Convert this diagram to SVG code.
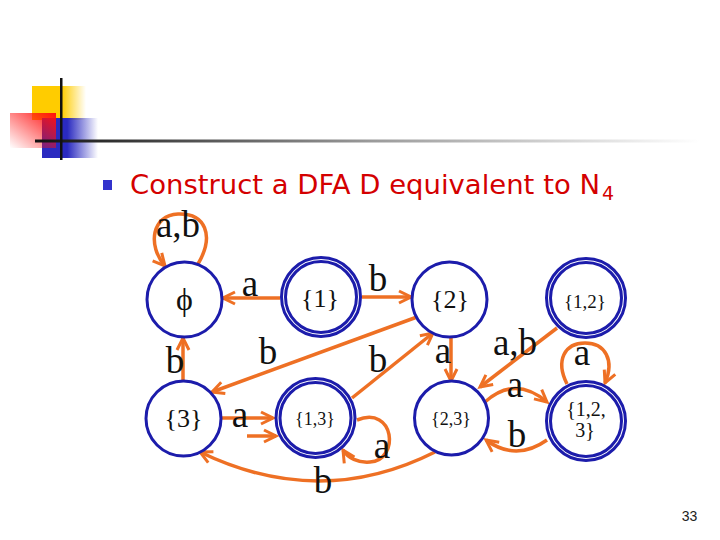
<svg xmlns="http://www.w3.org/2000/svg" width="720" height="540" viewBox="0 0 720 540">
<style>
.st{fill:#fff;stroke:#1c1cab;stroke-width:3}
.acc{fill:none;stroke:#1c1cab;stroke-width:3}
.nl{font-family:"Liberation Serif","DejaVu Serif",serif;fill:#111;text-anchor:middle}
.el{font-family:"Liberation Serif","DejaVu Serif",serif;font-size:37px;fill:#111;text-anchor:middle}
.e{fill:none;stroke:#ee7024;stroke-width:3.5;marker-end:url(#ah)}
</style>
<defs>
<marker id="ah" markerUnits="userSpaceOnUse" markerWidth="16" markerHeight="16" refX="13" refY="7" orient="auto" viewBox="0 0 16 14">
<path d="M1,1 L13,7 L1,13" fill="none" stroke="#ee7024" stroke-width="3" stroke-linejoin="miter"/>
</marker>
<linearGradient id="gy" x1="0" y1="0" x2="1" y2="0"><stop offset="0.55" stop-color="#ffcc00"/><stop offset="1" stop-color="#ffcc00" stop-opacity="0"/></linearGradient>
<linearGradient id="gb" x1="0" y1="0" x2="1" y2="0"><stop offset="0.45" stop-color="#2a2ac0"/><stop offset="1" stop-color="#2a2ac0" stop-opacity="0"/></linearGradient>
<linearGradient id="gr" x1="1" y1="0" x2="0" y2="1"><stop offset="0" stop-color="#ff1010"/><stop offset="1" stop-color="#ff1010" stop-opacity="0"/></linearGradient>
<linearGradient id="gl" x1="0" y1="0" x2="1" y2="0"><stop offset="0" stop-color="#111"/><stop offset="0.5" stop-color="#999"/><stop offset="1" stop-color="#fff"/></linearGradient>
</defs>
<rect width="720" height="540" fill="#fff"/>
<g id="logo">
<rect x="32" y="86" width="54" height="34" fill="url(#gy)"/>
<rect x="42" y="118" width="56" height="40" fill="url(#gb)"/>
<rect x="10" y="113" width="46" height="35" fill="url(#gr)"/>
<rect x="35" y="139.5" width="665" height="3" fill="url(#gl)"/>
<rect x="60" y="78" width="2.5" height="82" fill="#111"/>
</g>
<g id="title">
<rect x="103" y="180" width="9" height="10" fill="#3333cc"/>
<text x="130" y="194" font-family="DejaVu Sans,Verdana,sans-serif" font-size="27" fill="#d40000" textLength="470" lengthAdjust="spacingAndGlyphs">Construct a DFA D equivalent to N</text>
<text x="602" y="200" font-family="DejaVu Sans,Verdana,sans-serif" font-size="19" fill="#d40000">4</text>
</g>
<g id="connectors">
<path class="e" d="M198,264 C215,235 205,213 178,214 C152,215 147,245 165,266"/>
<text class="el" x="178" y="237">a,b</text>
<path class="e" d="M280,298 L223,298"/>
<text class="el" x="250" y="296">a</text>
<path class="e" d="M362,297 L411,297"/>
<text class="el" x="378" y="291">b</text>
<path class="e" d="M183,381 L183,338"/>
<text class="el" x="175" y="373">b</text>
<path class="e" d="M417,317 L212,392"/>
<text class="el" x="268" y="364">b</text>
<path class="e" d="M352,398 L433,333"/>
<text class="el" x="378" y="372">b</text>
<path class="e" d="M451,337 L451,381"/>
<text class="el" x="443" y="363">a</text>
<path class="e" d="M557,328 L480,387"/>
<text class="el" x="515" y="355">a,b</text>
<path class="e" d="M485,402 Q515,375 547,402"/>
<text class="el" x="515" y="397">a</text>
<path class="e" d="M547,440 Q516,462 486,440"/>
<text class="el" x="517" y="447">b</text>
<path class="e" d="M567,384 C555,360 565,343 585,343 C605,343 615,360 605,383"/>
<text class="el" x="582" y="365">a</text>
<path class="e" d="M222,418 L273,418"/>
<text class="el" x="240" y="427">a</text>
<path class="e" d="M247,436 L276,436"/>
<path class="e" d="M357,420 C395,405 400,460 370,462 C358,463 348,458 343,450"/>
<text class="el" x="382" y="458">a</text>
<path class="e" d="M435,452 Q320,510 200,452"/>
<text class="el" x="323" y="493">b</text>
</g>
<g id="n_empty"><circle class="st" cx="184.5" cy="299.5" r="37.5"/><text class="nl" x="184.5" y="310" font-size="32">ϕ</text></g>
<g id="n_1"><circle class="st" cx="321" cy="297" r="39.5"/><circle class="acc" cx="321" cy="297" r="35.5"/><text class="nl" x="320" y="307" font-size="26">{1}</text></g>
<g id="n_2"><circle class="st" cx="449.5" cy="299.5" r="37.5"/><text class="nl" x="450" y="308" font-size="26">{2}</text></g>
<g id="n_12"><circle class="st" cx="586" cy="298" r="39.5"/><circle class="acc" cx="586" cy="298" r="35.5"/><text class="nl" x="585" y="308" font-size="19">{1,2}</text></g>
<g id="n_3"><circle class="st" cx="183.5" cy="418.5" r="37.5"/><text class="nl" x="183.5" y="427" font-size="26">{3}</text></g>
<g id="n_13"><circle class="st" cx="315.5" cy="418" r="39.5"/><circle class="acc" cx="315.5" cy="418" r="35.5"/><text class="nl" x="315" y="425" font-size="18">{1,3}</text></g>
<g id="n_23"><circle class="st" cx="451.5" cy="418" r="37"/><text class="nl" x="451" y="425" font-size="18">{2,3}</text></g>
<g id="n_123"><circle class="st" cx="586" cy="421" r="39.5"/><circle class="acc" cx="586" cy="421" r="35.5"/><text class="nl" x="586" y="416" font-size="20">{1,2,</text><text class="nl" x="585" y="437" font-size="20">3}</text></g>
<text x="689.5" y="521" font-family="Liberation Sans,Arial,sans-serif" font-size="14" fill="#222" text-anchor="middle">33</text>
</svg>
